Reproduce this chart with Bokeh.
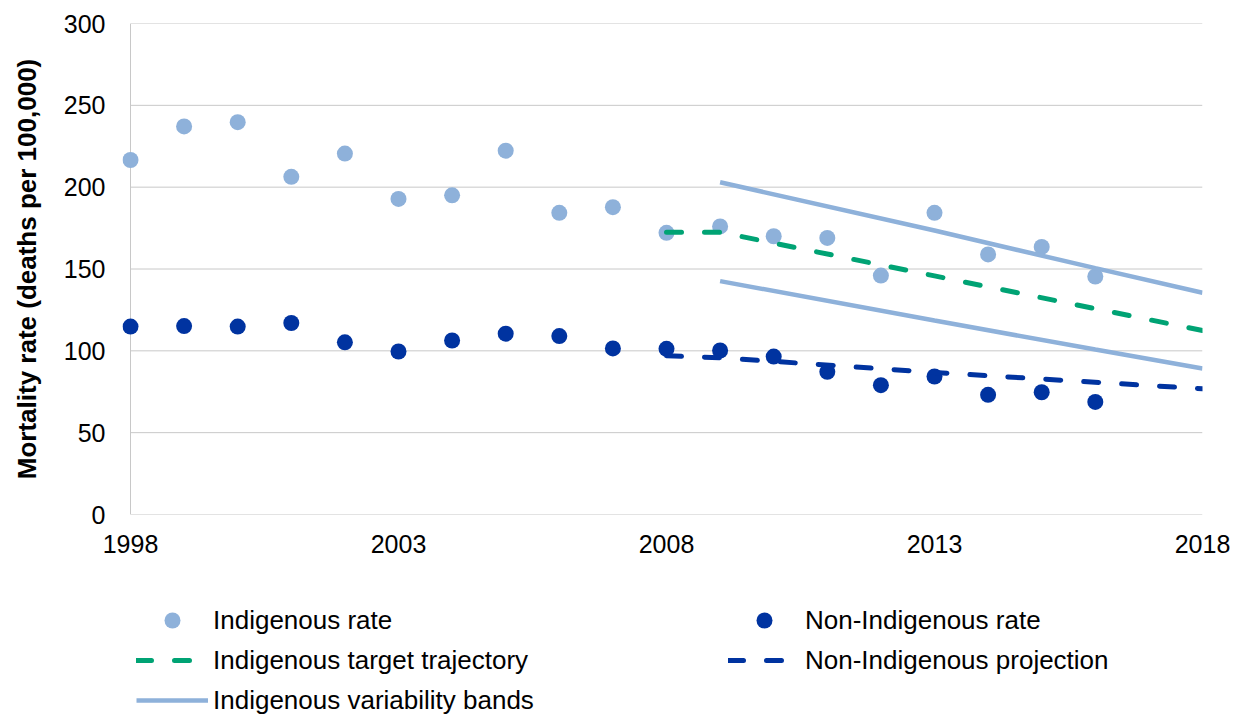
from bokeh.plotting import figure
from bokeh.layouts import column
from bokeh.models import Range1d, FixedTicker, Legend, LegendItem
from bokeh.embed import file_html
from bokeh.resources import INLINE

# ---- data ----
years = list(range(1998, 2017))
indigenous_rate = [216.6, 237.1, 239.7, 206.3, 220.5, 192.8, 195.0, 222.3, 184.3, 187.8,
                   172.1, 176.0, 170.0, 169.0, 146.0, 184.3, 158.9, 163.5, 145.4]
non_indigenous_rate = [114.8, 115.1, 114.8, 117.0, 105.2, 99.6, 106.3, 110.5, 109.0, 101.5,
                       101.2, 100.2, 96.5, 87.2, 79.0, 84.3, 73.1, 74.7, 68.8]

target_years = [2008, 2009, 2013, 2018]
target_values = [172.5, 172.5, 145.8, 112.4]

projection_years = [2008, 2009, 2013, 2018]
projection_values = [97.0, 95.8, 86.8, 76.8]

band_years = [2009, 2013, 2016, 2018]
band_upper = [203.0, 173.5, 150.5, 135.5]
band_lower = [142.6, 118.5, 100.8, 89.2]

x_ticks = [1998, 2003, 2008, 2013, 2018]
y_ticks = [0, 50, 100, 150, 200, 250, 300]
x_start, x_end = 1998, 2018

legend_labels = ["Indigenous rate", "Non-Indigenous rate", "Indigenous target trajectory",
                 "Non-Indigenous projection", "Indigenous variability bands"]

LIGHT = "#8EB1DA"
DARK = "#0033A0"
GREEN = "#00A374"
GRID = "#C8C8C8"
FONT = "Liberation Sans"

# frame is widened by 8px on the left so that the 1998 markers are not clipped
p = figure(width=1243, height=565, output_backend="svg", toolbar_location=None,
           x_range=Range1d(x_start - 8 / 53.6, x_end), y_range=Range1d(0, 300),
           min_border_left=122, min_border_right=41, min_border_top=23, min_border_bottom=51)
p.outline_line_color = None

for ax in (p.xaxis[0], p.yaxis[0]):
    ax.major_tick_line_color = None
    ax.minor_tick_line_color = None
    ax.major_tick_out = 0
    ax.major_tick_in = 0
    ax.axis_line_color = None
    ax.major_label_text_font = FONT
    ax.major_label_text_font_size = "25px"
    ax.major_label_text_color = "black"

p.xaxis.ticker = FixedTicker(ticks=x_ticks)
p.yaxis.ticker = FixedTicker(ticks=y_ticks)
p.xaxis.major_label_standoff = 20
p.yaxis.major_label_standoff = 17
p.yaxis.axis_label = "Mortality rate (deaths per 100,000)"
p.yaxis.axis_label_text_font = FONT
p.yaxis.axis_label_text_font_size = "26px"
p.yaxis.axis_label_text_font_style = "bold"
p.yaxis.axis_label_text_color = "black"
p.yaxis.axis_label_standoff = 19

p.xgrid.grid_line_color = None
p.ygrid.grid_line_color = None

# gridlines and left axis line drawn from the tick values, spanning 1998-2018
p.segment(x0=[x_start] * len(y_ticks), x1=[x_end] * len(y_ticks), y0=y_ticks, y1=y_ticks,
          line_color=GRID, line_width=1)
p.segment(x0=[x_start], x1=[x_start], y0=[y_ticks[0]], y1=[y_ticks[-1]],
          line_color=GRID, line_width=1)

# data glyphs
p.scatter(years, indigenous_rate, size=16, color=LIGHT, line_color=None)
p.scatter(years, non_indigenous_rate, size=16, color=DARK, line_color=None)
p.line(band_years, band_upper, line_color=LIGHT, line_width=4.5)
p.line(band_years, band_lower, line_color=LIGHT, line_width=4.5)
p.line(target_years, target_values, line_color=GREEN, line_width=5,
       line_dash="15 23", line_cap="round")
p.line(projection_years, projection_values, line_color=DARK, line_width=5,
       line_dash="15 23", line_cap="round")

# legend panel below the chart (key glyphs sit outside the visible range)
lf = figure(width=1243, height=150, output_backend="svg", toolbar_location=None,
            x_range=Range1d(0, 1), y_range=Range1d(0, 1),
            x_axis_type=None, y_axis_type=None,
            min_border_left=0, min_border_right=0, min_border_top=0, min_border_bottom=0)
lf.outline_line_color = None
lf.xgrid.grid_line_color = None
lf.ygrid.grid_line_color = None
off = [-5, -4]
k_ind = lf.scatter(off[:1], off[:1], size=16, color=LIGHT, line_color=None)
k_non = lf.scatter(off[:1], off[:1], size=16, color=DARK, line_color=None)
k_tgt = lf.line(off, off, line_color=GREEN, line_width=5, line_dash="15 23", line_cap="round")
k_proj = lf.line(off, off, line_color=DARK, line_width=5, line_dash="15 23", line_cap="round")
k_band = lf.line(off, off, line_color=LIGHT, line_width=4.5)

legend = Legend(items=[LegendItem(label=lab, renderers=[r]) for lab, r in
                       zip(legend_labels, [k_ind, k_non, k_tgt, k_proj, k_band])],
                orientation="horizontal", ncols=2, location=(14, -5))
legend.glyph_width = 72
legend.glyph_height = 40
legend.label_height = 40
legend.label_width = 515
legend.label_standoff = 5
legend.spacing = 0
legend.padding = 0
legend.margin = 0
legend.label_text_font = FONT
legend.label_text_font_size = "26px"
legend.label_text_color = "black"
legend.background_fill_alpha = 0
legend.border_line_color = None
lf.add_layout(legend, "center")

layout = column(p, lf, spacing=0)
open("out.html", "w").write(file_html(layout, INLINE))
